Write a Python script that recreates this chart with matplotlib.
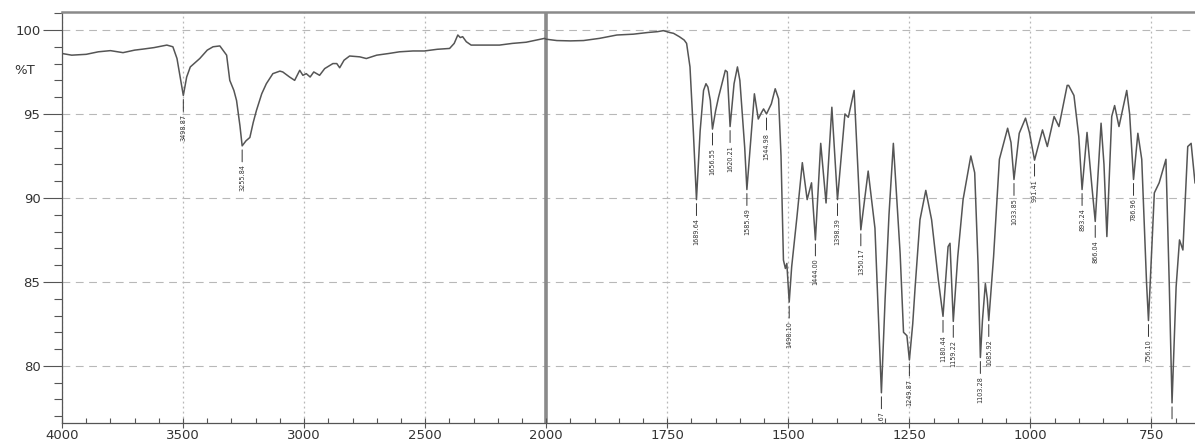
import numpy as np
import matplotlib
matplotlib.use("Agg")
import matplotlib.pyplot as plt
from matplotlib.ticker import FixedLocator, NullFormatter

# FTIR spectrum: wavenumber (cm-1) and transmittance (%T)
wavenumber = [
    4000, 3960, 3900, 3850, 3800, 3748, 3700, 3666, 3620, 3567, 3542, 3525, 3512,
    3498.87, 3485, 3470, 3431, 3400, 3376, 3348, 3320, 3307, 3290, 3279, 3265,
    3255.84, 3240, 3224, 3210, 3197, 3175, 3156, 3129, 3100, 3088, 3060, 3039,
    3018, 3005, 2991, 2975, 2960, 2936, 2915, 2881, 2865, 2853, 2835, 2812, 2770,
    2743, 2700, 2650, 2606, 2550, 2503, 2450, 2399, 2380, 2365, 2355, 2345, 2330,
    2310, 2250, 2193, 2140, 2083, 2040, 2007, 2000, 1978, 1950, 1923, 1890, 1854,
    1820, 1790, 1770, 1758, 1745, 1737, 1725, 1715, 1710, 1703, 1696, 1689.64,
    1682, 1675, 1670, 1666, 1661, 1656.55, 1650, 1644, 1630, 1626, 1620.21, 1612,
    1605, 1600, 1596, 1590, 1585.49, 1579, 1570, 1562, 1555, 1551, 1544.98, 1535,
    1527, 1520, 1515, 1510, 1506, 1503, 1498.10, 1493, 1482, 1471, 1461, 1452,
    1444.00, 1433, 1422, 1410, 1398.39, 1383, 1376, 1364, 1350.17, 1335, 1321,
    1314, 1307.67, 1300, 1292, 1283, 1276, 1269, 1262, 1255, 1249.87, 1243, 1238,
    1228, 1216, 1204, 1190, 1180.44, 1170, 1166, 1159.22, 1150, 1139, 1123, 1115,
    1108, 1103.28, 1099, 1093, 1089, 1085.92, 1076, 1064, 1047, 1040, 1033.85,
    1023, 1010, 1002, 991.41, 975, 965, 951, 941, 924, 921, 910, 900, 893.24, 883,
    873, 866.04, 854, 848, 842, 832, 826, 817, 801, 795, 786.96, 778, 770, 760,
    756.10, 750, 744, 734, 720, 713, 707.44, 699, 692, 685, 675, 668, 660,
]
transmittance = [
    98.6, 98.5, 98.55, 98.7, 98.77, 98.65, 98.8, 98.86, 98.95, 99.1, 99.0, 98.3, 97.2,
    96.1, 97.2, 97.8, 98.3, 98.8, 99.0, 99.05, 98.5, 97.0, 96.4, 95.8, 94.3,
    93.1, 93.4, 93.6, 94.5, 95.2, 96.2, 96.8, 97.4, 97.55, 97.5, 97.2, 97.0,
    97.6, 97.3, 97.4, 97.2, 97.5, 97.3, 97.7, 98.0, 98.0, 97.75, 98.2, 98.45, 98.4,
    98.3, 98.5, 98.6, 98.7, 98.75, 98.75, 98.85, 98.9, 99.2, 99.7, 99.55, 99.6, 99.3,
    99.1, 99.1, 99.1, 99.2, 99.27, 99.4, 99.5, 99.45, 99.37, 99.35, 99.37, 99.5, 99.7,
    99.75, 99.85, 99.9, 99.96, 99.85, 99.8, 99.6, 99.4, 99.2, 97.8, 93.9, 89.9,
    94.0, 96.4, 96.8, 96.6, 95.8, 94.1, 95.2, 96.0, 97.6, 97.5, 94.25, 96.8,
    97.8, 97.0, 95.4, 93.0, 90.5, 92.9, 96.2, 94.7, 95.1, 95.3, 95.0, 95.6,
    96.5, 95.9, 92.5, 86.3, 85.8, 86.1, 83.8, 85.9, 88.9, 92.1, 89.9, 90.9,
    87.5, 93.25, 89.7, 95.4, 89.9, 95.0, 94.8, 96.4, 88.1, 91.6, 88.2,
    83.0, 78.4, 84.0, 89.0, 93.25, 90.0, 86.7, 82.0, 81.8, 80.35, 82.5, 84.7,
    88.7, 90.45, 88.7, 85.1, 82.95, 87.1, 87.3, 82.65, 86.5, 89.9, 92.5, 91.5,
    86.0, 80.5, 82.7, 84.9, 84.0, 82.7, 86.5, 92.3, 94.15, 93.3, 91.1,
    93.85, 94.75, 93.9, 92.25, 94.05, 93.06, 94.85, 94.25, 96.7, 96.7, 96.1, 93.65, 90.5, 93.9,
    90.7, 88.6, 94.45, 92.0, 87.7, 94.85, 95.5, 94.25, 96.4, 95.0, 91.1, 93.85, 92.3, 84.9,
    82.7, 86.5, 90.3, 90.9, 92.3, 84.7, 77.8, 84.7, 87.5, 86.9, 93.06, 93.25, 90.9,
]

# Band positions that carry a wavenumber label
peak_wn = [3498.87, 3255.84, 1689.64, 1656.55, 1620.21, 1585.49, 1544.98,
           1498.10, 1444.00, 1398.39, 1350.17, 1307.67, 1249.87, 1180.44,
           1159.22, 1103.28, 1085.92, 1033.85, 991.41, 893.24, 866.04,
           786.96, 756.10, 707.44]

x_ticks = [4000, 3500, 3000, 2500, 2000, 1750, 1500, 1250, 1000, 750]
y_ticks = [80, 85, 90, 95, 100]


# Wavenumber axis is expanded by a factor of two below 2000 cm-1
def fwd(w):
    w = np.asarray(w, dtype=float)
    return np.where(w >= 2000, w, 2 * w - 2000)


def inv(u):
    u = np.asarray(u, dtype=float)
    return np.where(u >= 2000, u, (u + 2000) / 2)


fig = plt.figure(figsize=(11.95, 4.43), dpi=100)
ax = fig.add_axes([62 / 1195, 20 / 443, 1 - 62 / 1195, (423 - 12) / 443])
ax.set_xscale("function", functions=(fwd, inv))
ax.set_xlim(4000, 660)
ax.set_ylim(76.6, 101.07)

# grid
for yv in y_ticks:
    ax.axhline(yv, color="#b8b8b8", lw=0.8, ls=(0, (7, 5)), zorder=0)
for xv in x_ticks:
    if xv == 2000:
        continue
    ax.axvline(xv, color="#b8b8b8", lw=0.9, ls=(0, (1.5, 2.5)), zorder=0)
ax.axvline(2000, color="#8a8a8a", lw=2.6, zorder=1)

ax.plot(wavenumber, transmittance, color="#555555", lw=1.1, zorder=3)

# peak labels with leader lines
wn_arr = np.array(wavenumber)[::-1]
t_arr = np.array(transmittance)[::-1]
for wn in peak_wn:
    tmin = float(np.interp(wn, wn_arr, t_arr))
    ann = ax.annotate(
        f"{wn:.2f}", xy=(wn, tmin), xytext=(0, -13.5), textcoords="offset points",
        rotation=90, ha="center", va="top", fontsize=4.7, color="#333333",
        arrowprops=dict(arrowstyle="-", color="#333333", lw=0.7,
                        shrinkA=0, shrinkB=2.9),
        annotation_clip=False, zorder=4,
    )
    ann.set_clip_on(True)
    ann.set_clip_path(ax.patch)
    ann.arrow_patch.set_clip_path(ax.patch)

# axes frame
ax.spines["right"].set_visible(False)
ax.spines["top"].set_color("#8a8a8a")
ax.spines["top"].set_linewidth(1.8)
ax.spines["left"].set_color("#555555")
ax.spines["left"].set_linewidth(0.9)
ax.spines["bottom"].set_color("#555555")
ax.spines["bottom"].set_linewidth(0.9)

ax.xaxis.set_major_locator(FixedLocator(x_ticks))
ax.set_xticklabels([str(v) for v in x_ticks])
minor_x = list(range(3900, 2000, -100)) + list(range(1950, 650, -50))
ax.xaxis.set_minor_locator(FixedLocator([m for m in minor_x if m not in x_ticks]))
ax.xaxis.set_minor_formatter(NullFormatter())

ax.yaxis.set_major_locator(FixedLocator(y_ticks))
ax.set_yticklabels([str(v) for v in y_ticks])
ax.yaxis.set_minor_locator(FixedLocator([v for v in range(77, 102) if v not in y_ticks]))

ax.tick_params(axis="y", which="major", direction="out", length=13.5, width=0.8,
               color="#555555", labelsize=9.5, labelcolor="#333333", pad=2)
ax.tick_params(axis="y", which="minor", direction="out", length=6, width=0.8,
               color="#555555")
ax.tick_params(axis="x", which="major", direction="inout", length=7, width=0.8,
               color="#555555", labelsize=9.5, labelcolor="#333333", pad=1)
ax.tick_params(axis="x", which="minor", direction="in", length=3.5, width=0.8,
               color="#555555")

fig.text(25 / 1195, 1 - 70 / 443, "%T", ha="center", va="center",
         fontsize=9.5, color="#333333")

fig.savefig("out.png", dpi=100, facecolor="white")
